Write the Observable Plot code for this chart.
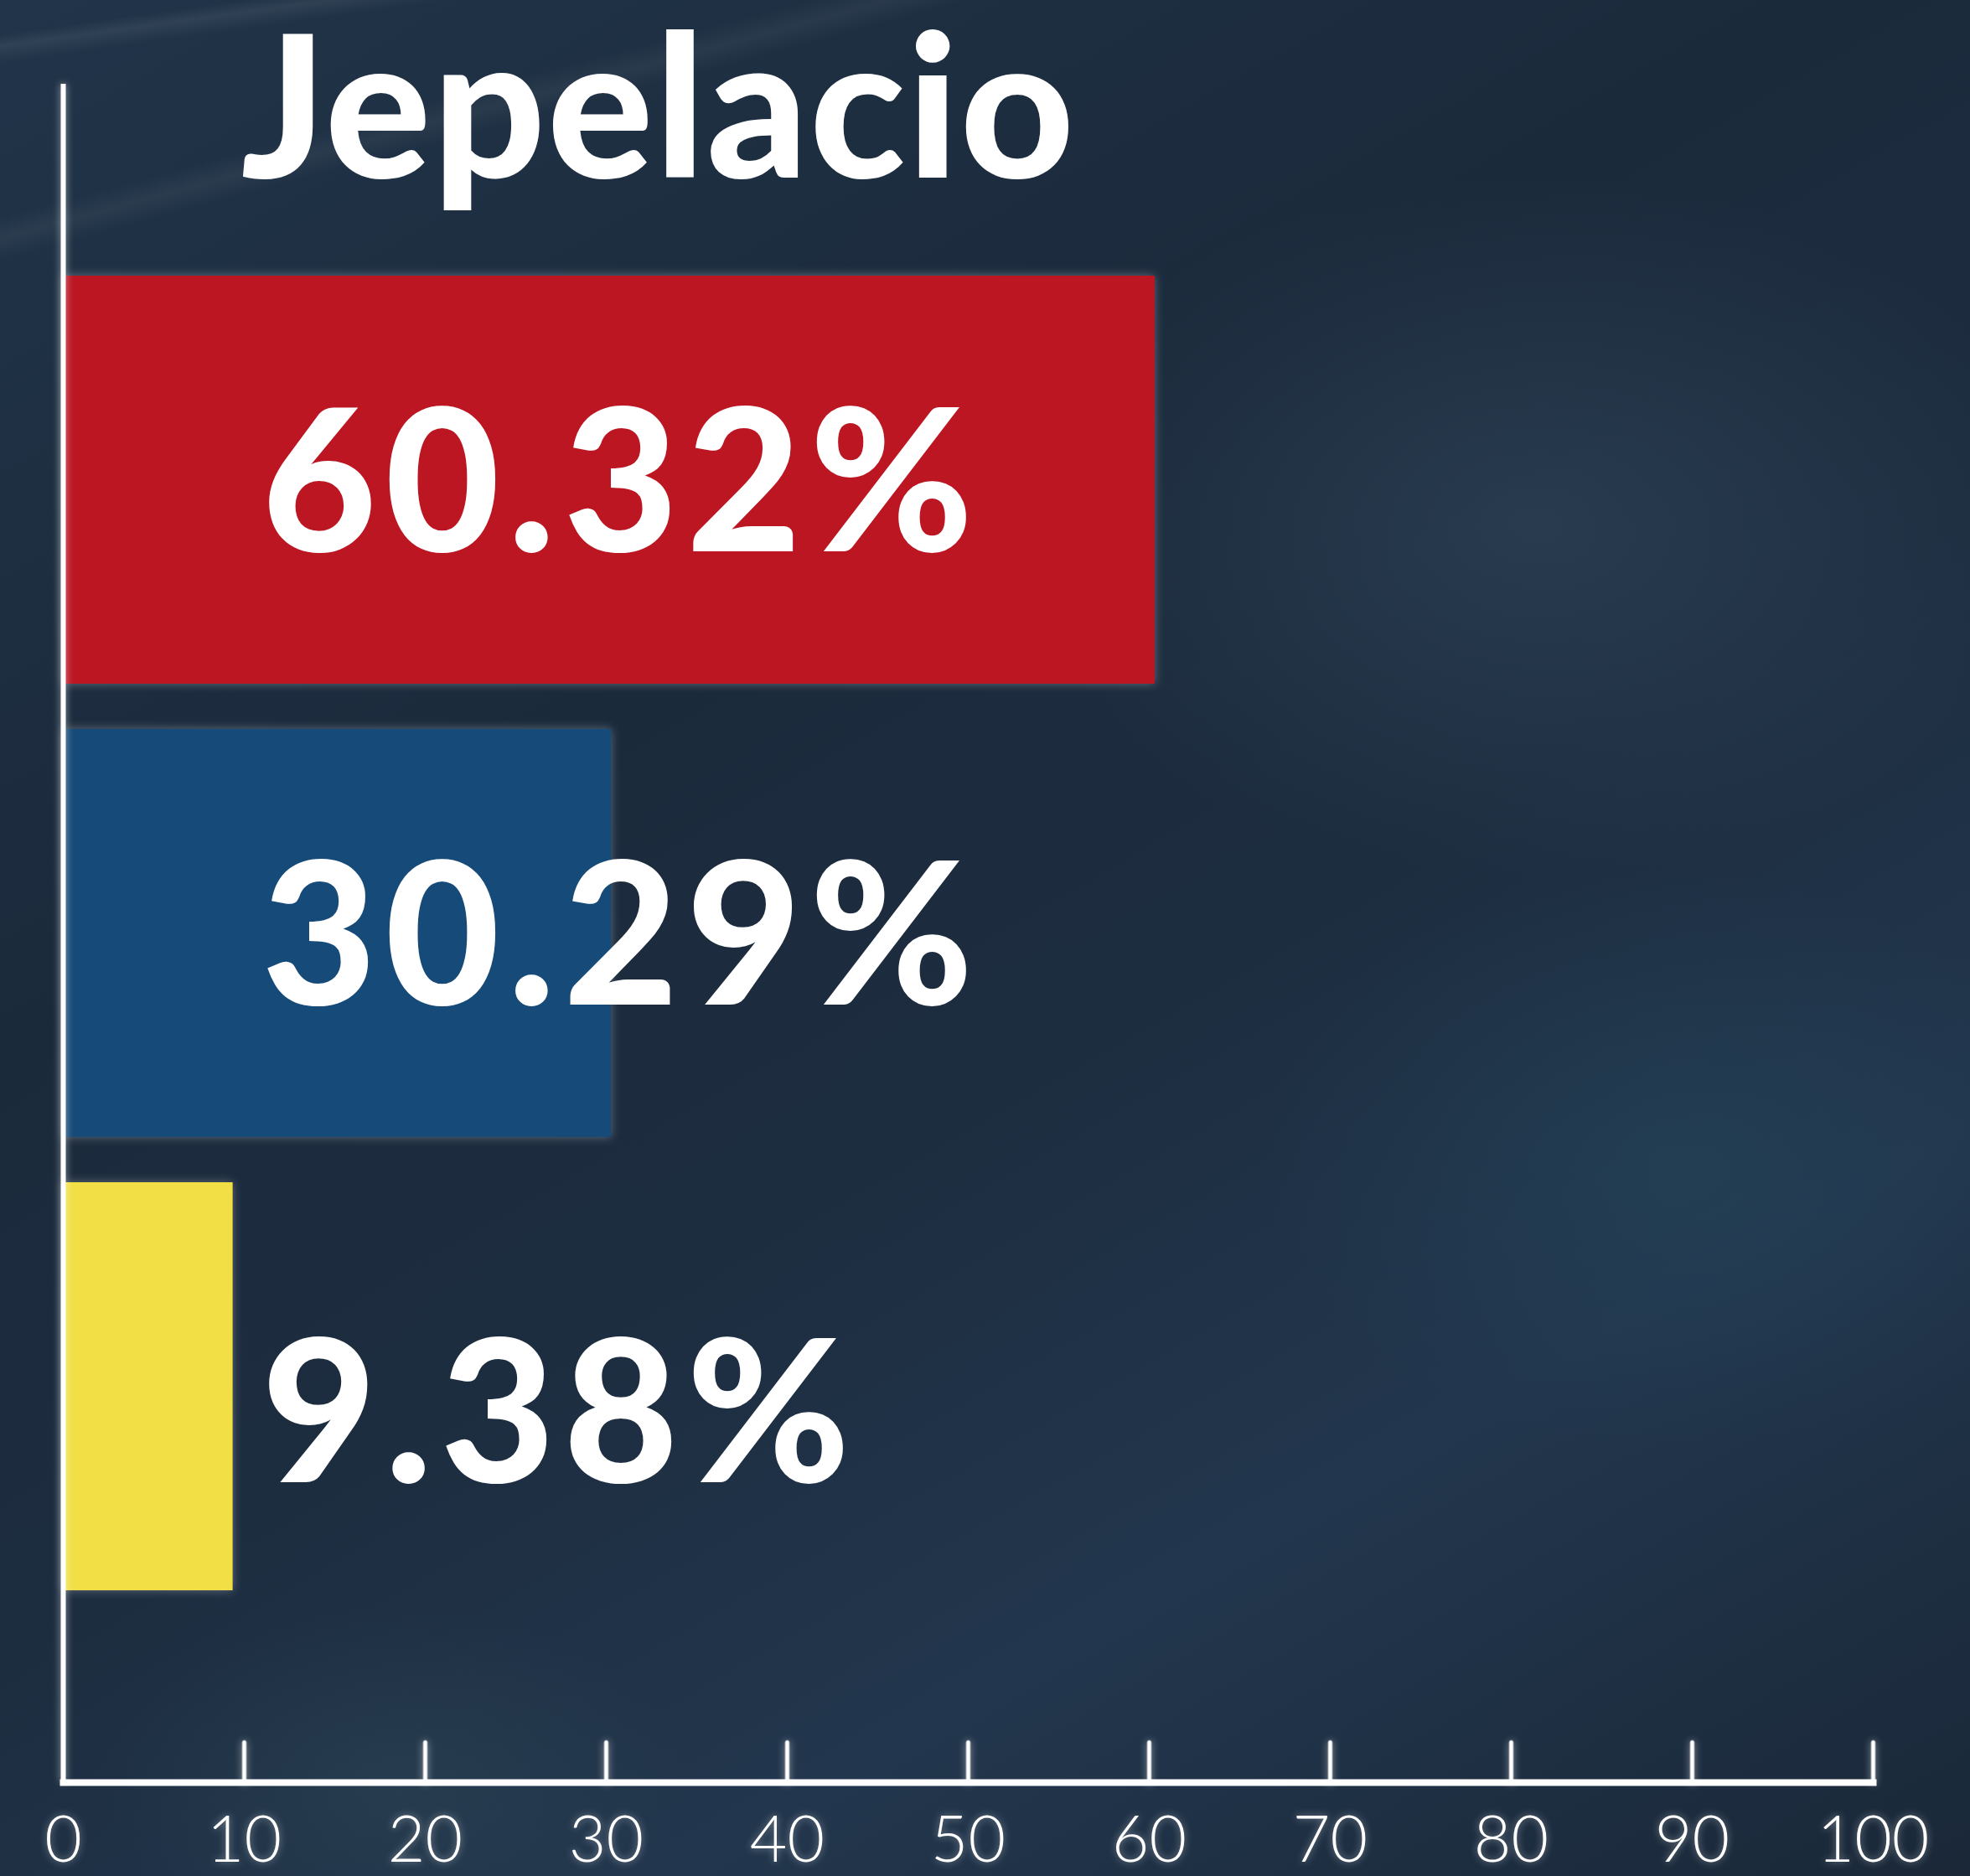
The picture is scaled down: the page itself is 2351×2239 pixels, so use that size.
<!DOCTYPE html>
<html>
<head>
<meta charset="utf-8">
<script src="https://cdn.jsdelivr.net/npm/d3@7"></script>
<script src="https://cdn.jsdelivr.net/npm/@observablehq/plot@0.6"></script>
<style>
  html, body { margin: 0; padding: 0; width: 2351px; height: 2239px; overflow: hidden; }
  body {
    background:
      linear-gradient(172deg, rgba(0,0,0,0) 0px, rgba(0,0,0,0) 40px, rgba(255,255,255,0.07) 55px, rgba(0,0,0,0) 75px),
      linear-gradient(165deg, rgba(0,0,0,0) 0px, rgba(0,0,0,0) 250px, rgba(255,255,255,0.05) 275px, rgba(0,0,0,0) 300px),
      radial-gradient(ellipse 900px 600px at 78% 28%, rgba(70,95,120,0.30), rgba(0,0,0,0) 70%),
      radial-gradient(ellipse 700px 500px at 85% 62%, rgba(40,90,110,0.25), rgba(0,0,0,0) 70%),
      radial-gradient(ellipse 500px 300px at 20% 95%, rgba(60,90,100,0.25), rgba(0,0,0,0) 70%),
      linear-gradient(150deg, #213449 0%, #1b2a3b 35%, #1d2d40 55%, #22364d 75%, #1a2838 100%);
    font-family: Lato, "Noto Sans", sans-serif;
  }
  #chart svg { display: block; }
  g[aria-label="rule"], g[aria-label="frame"], g[aria-label="vector"] {
    filter: drop-shadow(0 0 5px rgba(255,255,255,0.55));
  }
  g[aria-label="bar"] {
    filter: drop-shadow(0 0 6px rgba(255,255,255,0.30));
  }
  g[aria-label="x-axis tick label"] {
    filter: drop-shadow(0 0 5px rgba(255,255,255,0.45));
  }
</style>
</head>
<body>
<div id="chart"></div>
<script>
const title = "Jepelacio";
const categories = ["Rojo", "Azul", "Amarillo"];
const values = [60.32, 30.29, 9.38];
const colors = ["#bb1622", "#164a78", "#f2df45"];
const xTicks = [0, 10, 20, 30, 40, 50, 60, 70, 80, 90, 100];

const data = categories.map((c, i) => ({cat: c, value: values[i]}));
const fmt = d => d.value.toFixed(2) + "%";

const tickShape = {
  draw(context, l) {
    context.moveTo(0, 0);
    context.lineTo(0, -l);
  }
};

const chart = Plot.plot({
  width: 2351,
  height: 2239,
  marginLeft: 75,
  marginRight: 116,
  marginTop: 100,
  marginBottom: 112,
  style: {background: "transparent", color: "white", overflow: "visible"},
  x: {domain: [0, 100]},
  y: {domain: categories, paddingInner: 0.1, paddingOuter: 0.42, axis: null},
  color: {domain: categories, range: colors},
  marks: [
    Plot.barX(data, {y: "cat", x: "value", fill: "cat"}),
    Plot.ruleX([0], {stroke: "white", strokeWidth: 6}),
    Plot.frame({anchor: "bottom", stroke: "white", strokeWidth: 8}),
    Plot.vector(xTicks.filter(d => d > 0), {
      x: d => d, frameAnchor: "bottom", length: 48, rotate: 0, anchor: "start",
      shape: tickShape, stroke: "white", strokeWidth: 5
    }),
    Plot.axisX({
      ticks: xTicks, tickSize: 0, tickPadding: 40, label: null,
      fontSize: 77, fontFamily: "Lato", fontWeight: 300, fill: "white"
    }),
    Plot.text(data.slice(0, 2), {
      y: "cat", text: fmt, frameAnchor: "left", dx: 237, dy: 9, lineAnchor: "middle",
      textAnchor: "start", fontSize: 236, fontWeight: 900, fontFamily: "Lato", fill: "white"
    }),
    Plot.text(data.slice(2), {
      y: "cat", text: fmt, frameAnchor: "left", dx: 237, dy: 38, lineAnchor: "middle",
      textAnchor: "start", fontSize: 236, fontWeight: 900, fontFamily: "Lato", fill: "white"
    }),
    Plot.text([title], {
      frameAnchor: "top-left", dx: 212, dy: 36, lineAnchor: "middle", textAnchor: "start",
      fontSize: 236, fontWeight: 900, fontFamily: "Lato", fill: "white"
    })
  ]
});
d3.select(chart).selectAll('g[aria-label="text"] text')
  .style("letter-spacing", function() { return this.textContent === title ? "2px" : "10px"; });
document.getElementById("chart").appendChild(chart);
</script>
</body>
</html>
